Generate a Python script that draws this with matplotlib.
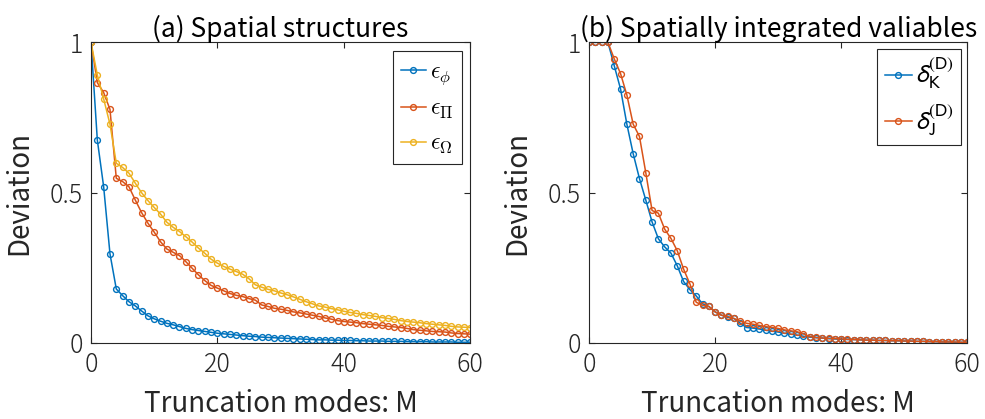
import matplotlib
matplotlib.use("Agg")
import matplotlib.pyplot as plt
from matplotlib.font_manager import FontProperties

M = list(range(61))

eps_phi = [1.0, 0.675, 0.52, 0.297, 0.18, 0.158, 0.138, 0.124, 0.107, 0.091,
           0.081, 0.073, 0.066, 0.061, 0.055, 0.049, 0.045, 0.042, 0.039, 0.036,
           0.033, 0.031, 0.029, 0.027, 0.025, 0.023, 0.022, 0.020, 0.019, 0.018,
           0.017, 0.016, 0.015, 0.014, 0.013, 0.012, 0.011, 0.011, 0.010, 0.010,
           0.009, 0.009, 0.008, 0.008, 0.007, 0.007, 0.007, 0.006, 0.006, 0.006,
           0.005, 0.005, 0.005, 0.005, 0.004, 0.004, 0.004, 0.004, 0.003, 0.003,
           0.003]
eps_Pi = [1.0, 0.866, 0.833, 0.777, 0.548, 0.537, 0.52, 0.476, 0.434, 0.399,
          0.369, 0.337, 0.313, 0.302, 0.291, 0.271, 0.249, 0.227, 0.208, 0.192,
          0.183, 0.174, 0.165, 0.159, 0.155, 0.148, 0.143, 0.127, 0.122, 0.116,
          0.113, 0.109, 0.104, 0.101, 0.097, 0.093, 0.089, 0.084, 0.080, 0.075,
          0.072, 0.070, 0.068, 0.065, 0.063, 0.061, 0.059, 0.056, 0.054, 0.052,
          0.049, 0.045, 0.043, 0.041, 0.039, 0.038, 0.037, 0.034, 0.032, 0.031,
          0.030]
eps_Omega = [1.0, 0.891, 0.812, 0.728, 0.598, 0.584, 0.565, 0.532, 0.500, 0.474,
             0.451, 0.429, 0.402, 0.385, 0.371, 0.354, 0.336, 0.316, 0.299, 0.279,
             0.266, 0.255, 0.246, 0.238, 0.229, 0.214, 0.194, 0.186, 0.179, 0.174,
             0.167, 0.161, 0.154, 0.146, 0.138, 0.131, 0.124, 0.120, 0.115, 0.111,
             0.106, 0.102, 0.099, 0.095, 0.092, 0.089, 0.085, 0.082, 0.079, 0.075,
             0.072, 0.070, 0.068, 0.065, 0.063, 0.061, 0.059, 0.056, 0.054, 0.053,
             0.052]

delta_K = [1.0, 1.0, 1.0, 1.0, 0.922, 0.845, 0.728, 0.630, 0.547, 0.476,
           0.403, 0.347, 0.320, 0.299, 0.257, 0.205, 0.178, 0.157, 0.131, 0.122,
           0.104, 0.093, 0.086, 0.082, 0.066, 0.052, 0.050, 0.047, 0.043, 0.040,
           0.037, 0.033, 0.030, 0.027, 0.023, 0.020, 0.018, 0.017, 0.015, 0.014,
           0.013, 0.012, 0.012, 0.011, 0.010, 0.010, 0.009, 0.009, 0.008, 0.008,
           0.007, 0.007, 0.006, 0.006, 0.005, 0.005, 0.004, 0.004, 0.003, 0.003,
           0.002]
delta_J = [1.0, 1.0, 1.0, 1.0, 0.945, 0.896, 0.825, 0.728, 0.687, 0.567,
           0.441, 0.432, 0.379, 0.348, 0.307, 0.246, 0.197, 0.136, 0.126, 0.122,
           0.104, 0.093, 0.089, 0.082, 0.073, 0.066, 0.063, 0.059, 0.055, 0.052,
           0.049, 0.044, 0.041, 0.038, 0.031, 0.022, 0.019, 0.017, 0.016, 0.015,
           0.014, 0.013, 0.012, 0.011, 0.010, 0.010, 0.009, 0.009, 0.008, 0.008,
           0.007, 0.007, 0.006, 0.006, 0.005, 0.005, 0.004, 0.004, 0.004, 0.003,
           0.003]

xticks = [0, 20, 40, 60]
yticks = [0, 0.5, 1]
yticklabels = ["0", "0.5", "1"]
titles = ["(a) Spatial structures", "(b) Spatially integrated valiables"]
xlabel = "Truncation modes: M"
ylabel = "Deviation"
labels_a = [r'$\epsilon_{\phi}$', r'$\epsilon_{\Pi}$', r'$\epsilon_{\Omega}$']
labels_b = [r'$\delta^{\mathrm{(D)}}_{\mathrm{K}}$', r'$\delta^{\mathrm{(D)}}_{\mathrm{J}}$']

plt.rcParams['font.family'] = ['Noto Sans CJK JP', 'DejaVu Sans']
plt.rcParams['font.weight'] = 'light'

C1, C2, C3 = '#0072BD', '#D95319', '#EDB120'
AX = '#262626'

fig = plt.figure(figsize=(9.85, 4.19), dpi=100)
ax1 = fig.add_axes([0.0924, 0.181, 0.385, 0.718])
ax2 = fig.add_axes([0.598, 0.181, 0.384, 0.718])

mk = dict(marker='o', markersize=4.2, markerfacecolor='none', markeredgewidth=1.0, linewidth=1.1)

ax1.plot(M, eps_phi, color=C1, label=labels_a[0], **mk)
ax1.plot(M, eps_Pi, color=C2, label=labels_a[1], **mk)
ax1.plot(M, eps_Omega, color=C3, label=labels_a[2], **mk)

ax2.plot(M, delta_K, color=C1, label=labels_b[0], **mk)
ax2.plot(M, delta_J, color=C2, label=labels_b[1], **mk)

for ax, t in zip([ax1, ax2], titles):
    ax.set_xlim(0, 60)
    ax.set_ylim(0, 1)
    ax.set_xticks(xticks)
    ax.set_yticks(yticks)
    ax.set_yticklabels(yticklabels)
    ax.tick_params(direction='in', top=True, right=True, length=4, width=0.8,
                   colors=AX, labelsize=18, pad=6)
    for s in ax.spines.values():
        s.set_color(AX)
        s.set_linewidth(0.8)
    ax.set_title(t, fontsize=19, color='black', pad=4)
    ax.set_xlabel(xlabel, fontsize=20, color=AX, labelpad=8)
    ax.set_ylabel(ylabel, fontsize=20, color=AX, labelpad=11)

propa = FontProperties(family=['Noto Sans CJK JP', 'DejaVu Sans'], size=17, math_fontfamily='cm')
leg1 = ax1.legend(loc='upper right', prop=propa, handlelength=1.05,
                  handletextpad=0.2, borderpad=0.35, labelspacing=0.4,
                  fancybox=False, framealpha=1, edgecolor=AX, borderaxespad=0.35)
propb = FontProperties(family=['Noto Sans CJK JP', 'DejaVu Sans'], size=18, math_fontfamily='stixsans')
leg2 = ax2.legend(loc='upper right', prop=propb, handlelength=1.1,
                  handletextpad=0.15, borderpad=0.3, labelspacing=0.45,
                  fancybox=False, framealpha=1, edgecolor=AX, borderaxespad=0.25)
for leg in (leg1, leg2):
    leg.get_frame().set_linewidth(0.8)

fig.savefig('out.png', dpi=100)
